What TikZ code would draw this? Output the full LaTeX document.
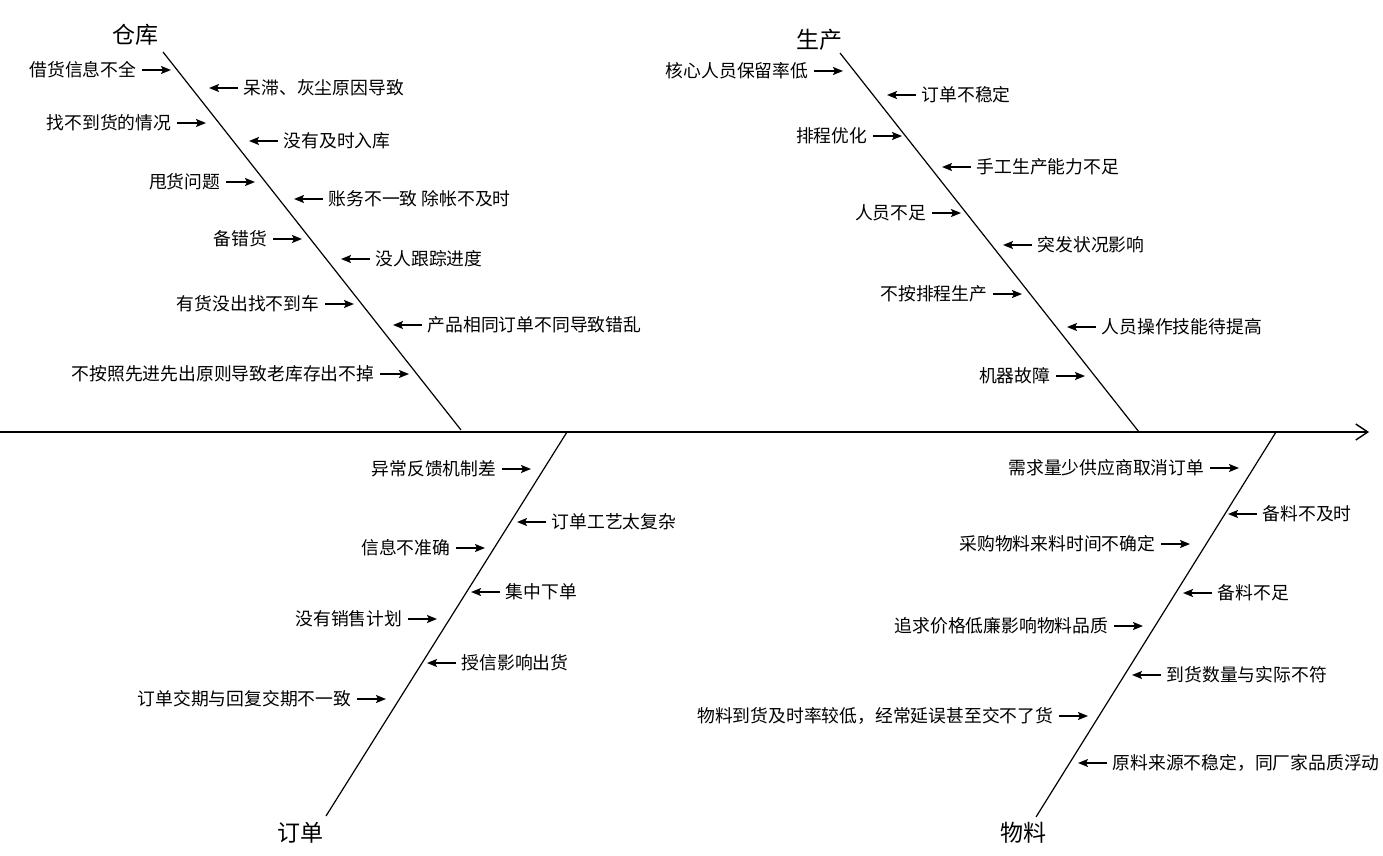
\documentclass[tikz,border=0pt]{standalone}
\usepackage{fontspec}
\setmainfont{Noto Sans CJK SC}
\usetikzlibrary{positioning,arrows.meta}

\begin{document}
\begin{tikzpicture}[x=1pt,y=-1pt,
  every node/.style={font=\fontsize{17.8}{20}\selectfont},
  cause/.style={inner sep=5.5pt},
  bonetitle/.style={font=\fontsize{23}{26}\selectfont},
  bone/.style={line width=1.2pt},
  cause arrow/.style={line width=1.6pt,-{Stealth[length=10pt,width=8pt,inset=2pt]}}]
\useasboundingbox (0,0) rectangle (1383,856);

% spine
\coordinate (tail) at (0,432); \coordinate (head) at (1369,432);
\draw[line width=1.4pt,-{Straight Barb[length=12pt,width=16pt]}] (tail) -- (head);

% bones
\node[bonetitle] (ck) at (135,35) {仓库};
\node[bonetitle] (sc) at (819,40) {生产};
\node[bonetitle] (dd) at (300,833) {订单};
\node[bonetitle] (wl) at (1023,833) {物料};
\coordinate (ck1) at (163,52);   \coordinate (ck2) at (461,430);
\coordinate (sc1) at (840,53);   \coordinate (sc2) at (1139,432);
\coordinate (dd1) at (567,432);  \coordinate (dd2) at (326,816);
\coordinate (wl1) at (1276,432); \coordinate (wl2) at (1036,817);
\draw[bone] (ck1)--(ck2); \draw[bone] (sc1)--(sc2); \draw[bone] (dd1)--(dd2); \draw[bone] (wl1)--(wl2);

% causes left of a bone
\foreach \txt/\x/\y [count=\i] in {借货信息不全/171/70, 找不到货的情况/206/123, 甩货问题/255/182,
    备错货/302/239, 有货没出找不到车/354/304, 不按照先进先出原则导致老库存出不掉/409/374,
    核心人员保留率低/843/71, 排程优化/902/136, 人员不足/961/213, 不按排程生产/1022/294, 机器故障/1085/376,
    异常反馈机制差/531/469, 信息不准确/485/548, 没有销售计划/437/619, 订单交期与回复交期不一致/386/699,
    需求量少供应商取消订单/1239/468, 采购物料来料时间不确定/1190/544, 追求价格低廉影响物料品质/1143/626,
    物料到货及时率较低，经常延误甚至交不了货/1088/716}{
  \coordinate (la\i) at (\x,\y);
  \node[cause,left=29pt of la\i] (l\i) {\txt};
  \draw[cause arrow] (l\i) -- (la\i);
}

% causes right of a bone
\foreach \txt/\x/\y [count=\i] in {呆滞、灰尘原因导致/209/88, 没有及时入库/249/141, 账务不一致 除帐不及时/294/199,
    没人跟踪进度/341/259, 产品相同订单不同导致错乱/393/325,
    订单不稳定/887/95, 手工生产能力不足/942/167, 突发状况影响/1003/245, 人员操作技能待提高/1067/327,
    订单工艺太复杂/517/522, 集中下单/471/592, 授信影响出货/427/663,
    备料不及时/1228/514, 备料不足/1183/593, 到货数量与实际不符/1132/675, 原料来源不稳定，同厂家品质浮动/1078/763}{
  \coordinate (ra\i) at (\x,\y);
  \node[cause,right=29pt of ra\i] (r\i) {\txt};
  \draw[cause arrow] (r\i) -- (ra\i);
}
\end{tikzpicture}
\end{document}
